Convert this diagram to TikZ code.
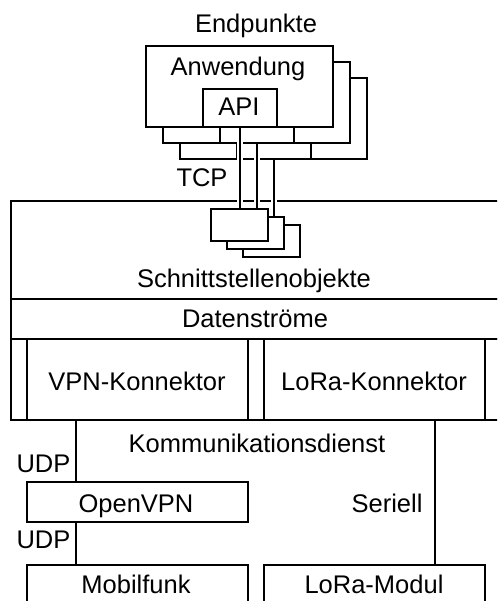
\documentclass[tikz,border=0pt]{standalone}
\usepackage{fontspec}
\setmainfont{Liberation Sans}
\usetikzlibrary{calc}
\tikzset{
  blk/.style={draw=black, line width=1.8pt, fill=white, rectangle, inner sep=0pt, anchor=north west},
  txt/.style={anchor=base, inner sep=0pt, font=\fontsize{25.5}{30}\selectfont},
  wire/.style={draw=black, line width=1.8pt},
  link/.style={wire, preaction={draw=white, line width=6pt, shorten <=1.2pt}},
}
\begin{document}
\begin{tikzpicture}[x=1pt, y=-1pt]
\useasboundingbox (0,0) rectangle (497,601);
\clip (0,0) rectangle (497,601);

% Kommunikationsdienst block: object layer, stream layer, connector row
\node[blk, minimum width=490pt, minimum height=98pt] (schicht) at (10,200) {};
\node[blk, minimum width=490pt, minimum height=40pt] (stroeme) at (10,298) {};
\node[blk, minimum width=490pt, minimum height=81pt] (konnrow) at (10,338) {};
\node[blk, minimum width=221pt, minimum height=81pt] (vpnk) at (26,338) {};
\node[blk, minimum width=221pt, minimum height=81pt] (lorak) at (263,338) {};

% Endpoints, stacked back to front
\node[blk, minimum width=187pt, minimum height=81pt] (app3) at (179,77) {};
\node[blk, minimum width=74pt, minimum height=38pt] (api3) at (236,120) {};
\node[blk, minimum width=187pt, minimum height=81pt] (app2) at (162,61) {};
\node[blk, minimum width=74pt, minimum height=38pt] (api2) at (219,104) {};
\node[blk, minimum width=187pt, minimum height=81pt] (app1) at (145,45) {};
\node[blk, minimum width=74pt, minimum height=38pt] (api1) at (202,88) {};

% Interface objects (positions only, drawn after the links)
\coordinate (o1) at (210,208);
\coordinate (o2) at (226,216);
\coordinate (o3) at (242,224);

% TCP links from each API to its interface object
\draw[link] (api3.south) -- (api3.south |- o3);
\draw[link] (api2.south) -- (api2.south |- o2);
\draw[link] (api1.south) -- (api1.south |- o1);

\node[blk, minimum width=57pt, minimum height=32pt] (obj3) at (o3) {};
\node[blk, minimum width=57pt, minimum height=32pt] (obj2) at (o2) {};
\node[blk, minimum width=57pt, minimum height=32pt] (obj1) at (o1) {};

% Transport layer below the service
\node[blk, minimum width=221pt, minimum height=40pt] (ovpn) at (26,481) {};
\node[blk, minimum width=221pt, minimum height=80pt] (mobil) at (26,564) {};
\node[blk, minimum width=221pt, minimum height=80pt] (lmodul) at (263,564) {};

\draw[wire] ([xshift=50pt]vpnk.south west) -- ([xshift=50pt]ovpn.north west);
\draw[wire] ([xshift=50pt]ovpn.south west) -- ([xshift=50pt]mobil.north west);
\draw[wire] ([xshift=172pt]lorak.south west) -- ([xshift=172pt]lmodul.north west);

% Labels
\node[txt] (tEnd) at (256,33) {Endpunkte};
\node[txt] (tApp) at (238,76) {Anwendung};
\node[txt] (tApi) at (239,116) {API};
\node[txt] (tTcp) at (202,187) {TCP};
\node[txt] (tObj) at (254,287) {Schnittstellenobjekte};
\node[txt] (tStr) at (255,327) {Datenströme};
\node[txt] (tVpnk) at (137,390) {VPN-Konnektor};
\node[txt] (tLorak) at (374,390) {LoRa-Konnektor};
\node[txt] (tKom) at (257,452) {Kommunikationsdienst};
\node[txt] (tUdp1) at (43.5,472) {UDP};
\node[txt] (tOvpn) at (136,512) {OpenVPN};
\node[txt] (tSer) at (387,512) {Seriell};
\node[txt] (tUdp2) at (43.5,548) {UDP};
\node[txt] (tMob) at (136,593) {Mobilfunk};
\node[txt] (tLmod) at (374,593) {LoRa-Modul};
\end{tikzpicture}
\end{document}
